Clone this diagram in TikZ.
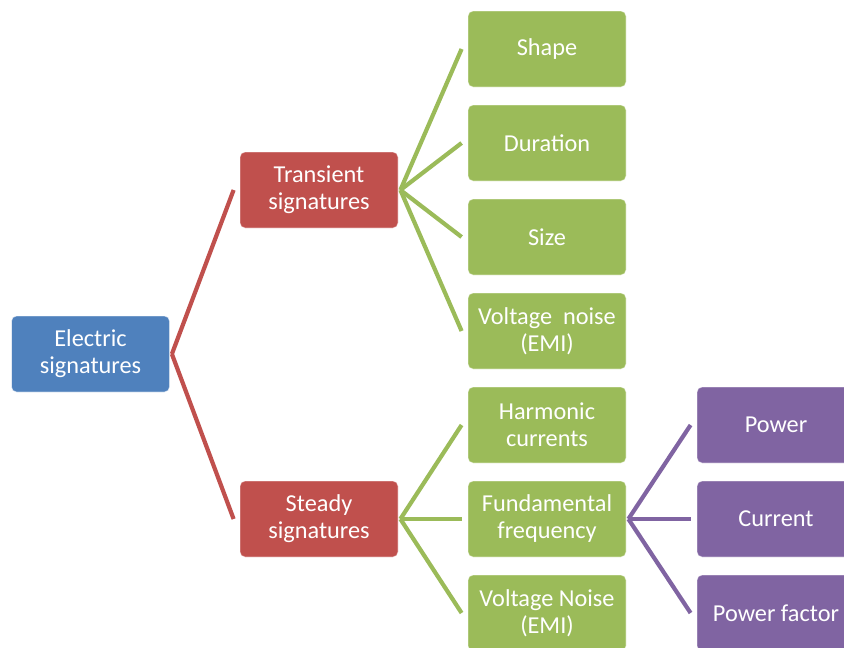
\documentclass[tikz,border=0pt]{standalone}
\usepackage{fontspec}
\setmainfont{Carlito}
\definecolor{cblue}{HTML}{4F81BD}
\definecolor{cred}{HTML}{C0504D}
\definecolor{cgreen}{HTML}{9BBB59}
\definecolor{cpurple}{HTML}{8064A2}
\begin{document}
\begin{tikzpicture}[x=1pt,y=-1pt,
  box/.style={rounded corners=5pt, minimum width=158pt, minimum height=76pt,
    inner sep=0pt, text=white, align=center,
    font=\fontsize{24.3}{27}\selectfont,
    draw=white, draw opacity=0.55, line width=0.8pt},
  bluebox/.style={box, fill=cblue},
  redbox/.style={box, fill=cred},
  greenbox/.style={box, fill=cgreen},
  purplebox/.style={box, fill=cpurple},
  link/.style={line width=4.2pt, line join=round}
]
\useasboundingbox (0,0) rectangle (844,648);
\clip (0,0) rectangle (844,648);

% level 0
\node[bluebox] (el) at (90.5,354) {Electric\\signatures};
% level 1
\node[redbox] (tr) at (319,190) {Transient\\signatures};
\node[redbox] (st) at (319,519) {Steady\\signatures};
% level 2, transient branch
\node[greenbox] (sh) at (547,49)  {Shape};
\node[greenbox] (du) at (547,143) {Duration};
\node[greenbox] (si) at (547,237) {Size};
\node[greenbox] (vn) at (547,331) {Voltage\ \ noise\\(EMI)};
% level 2, steady branch
\node[greenbox] (ha) at (547,425) {Harmonic\\currents};
\node[greenbox] (fu) at (547,519) {Fundamental\\frequency};
\node[greenbox] (vs) at (547,613) {Voltage Noise\\(EMI)};
% level 3
\node[purplebox] (po) at (776,425) {Power};
\node[purplebox] (cu) at (776,519) {Current};
\node[purplebox] (pf) at (776,613) {Power factor};

% connectors
\foreach \c in {tr,st}
  \draw[link, cred] ([xshift=2pt]el.east) -- ([xshift=-6pt]\c.west);
\foreach \c in {sh,du,si,vn}
  \draw[link, cgreen] ([xshift=2pt]tr.east) -- ([xshift=-6pt]\c.west);
\foreach \c in {ha,fu,vs}
  \draw[link, cgreen] ([xshift=2pt]st.east) -- ([xshift=-6pt]\c.west);
\foreach \c in {po,cu,pf}
  \draw[link, cpurple] ([xshift=2pt]fu.east) -- ([xshift=-6pt]\c.west);
\end{tikzpicture}
\end{document}
